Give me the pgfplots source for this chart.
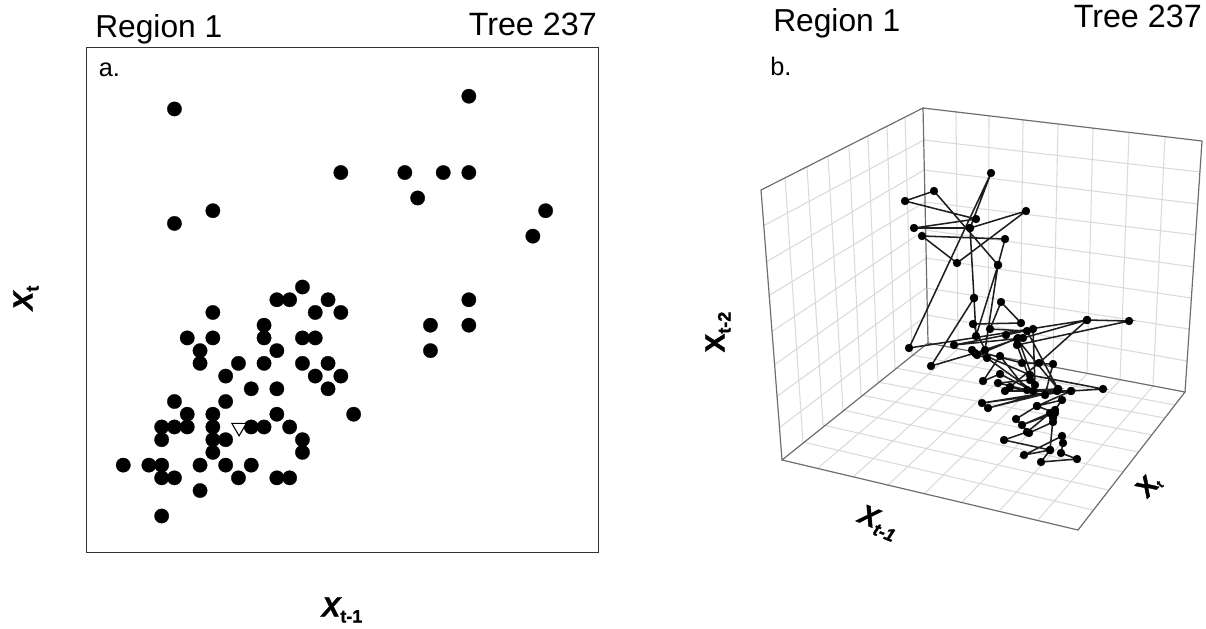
\documentclass[border=0pt]{standalone}
\usepackage{pgfplots}
\pgfplotsset{compat=1.18}
\usepackage{fontspec}
\setmainfont{Liberation Sans}
\newfontface\labb{Liberation Sans Bold}[FakeBold=1.2]
\newfontface\labi{Liberation Sans Bold Italic}[FakeBold=1.2]

\definecolor{gridgray}{HTML}{DADADA}
\definecolor{boxgray}{HTML}{6E6E6E}
\definecolor{pathgray}{HTML}{1E1E1E}
% box and grid of panel b, in picture pixels
\pgfplotsset{
  grid seg/.style={no marks, color=gridgray, line width=0.8bp},
  box seg/.style={no marks, color=boxgray, line width=0.9bp},
}
% axis letter with a bold subscript
\newcommand\sub[1]{\raisebox{-4.5bp}{\fontsize{13.5bp}{15bp}\labb #1}}

\begin{document}
\begin{tikzpicture}
\useasboundingbox (0bp,0bp) rectangle (904.5bp,-471.75bp);

% panel a
\begin{axis}[
  at={(64.5bp,-414bp)}, anchor=south west,
  scale only axis, width=384bp, height=378.75bp,
  xmin=-2.91, xmax=37.09, ymin=-2.83, ymax=36.87,
  xtick=\empty, ytick=\empty,
  axis line style={line width=0.7bp, color=black!80},
  clip=false,
]
\addplot[only marks, mark=*, mark size=5.4bp, mark options={fill=black,draw=black,line width=0.2bp}] coordinates {
  (14,18) (12,17) (13,17) (16,17) (7,16) (15,16) (17,16) (11,15)
  (5,14) (7,14) (11,14) (14,14) (15,14) (6,13) (12,13)
  (6,12) (9,12) (11,12) (14,12) (16,12) (8,11) (15,11) (17,11)
  (10,10) (12,10) (16,10) (4,9) (8,9) (5,8) (7,8) (12,8) (18,8)
  (3,7) (4,7) (5,7) (7,7) (10,7) (11,7) (13,7)
  (3,6) (7,6) (8,6) (14,6) (7,5) (14,5)
  (0,4) (2,4) (3,4) (6,4) (8,4) (10,4)
  (3,3) (4,3) (9,3) (12,3) (13,3) (6,2) (3,0)
  (27,33) (4,32) (17,27) (22,27) (25,27) (27,27) (23,25) (33,24)
  (7,24) (32,22) (4,23) (27,17) (27,15) (24,15) (24,13)
};
\addplot[only marks, mark=triangle*, mark size=6.2bp,
  mark options={rotate=180, fill=white, draw=black, line width=0.8bp}] coordinates {(9.05,6.95)};
\end{axis}

% panel b, plotted in picture pixels
\begin{axis}[
  at={(0bp,-471.75bp)}, anchor=south west,
  scale only axis, width=904.5bp, height=471.75bp,
  xmin=0, xmax=1206, ymin=0, ymax=629, y dir=reverse,
  hide axis, clip=false,
]
% left wall
\addplot[grid seg] coordinates {(785,178) (803,442)};
\addplot[grid seg] coordinates {(807,167) (823,425)};
\addplot[grid seg] coordinates {(828,157) (843,410)};
\addplot[grid seg] coordinates {(849,147) (861,395)};
\addplot[grid seg] coordinates {(868,137) (878,382)};
\addplot[grid seg] coordinates {(887,127) (895,368)};
\addplot[grid seg] coordinates {(905,118) (912,355)};
\addplot[grid seg] coordinates {(763,226) (924,140)};
\addplot[grid seg] coordinates {(766,262) (924,170)};
\addplot[grid seg] coordinates {(768,296) (925,202)};
\addplot[grid seg] coordinates {(771,332) (925,230)};
\addplot[grid seg] coordinates {(774,365) (926,258)};
\addplot[grid seg] coordinates {(776,397) (926,288)};
\addplot[grid seg] coordinates {(779,428) (927,315)};
% right wall
\addplot[grid seg] coordinates {(956,112) (958,349)};
\addplot[grid seg] coordinates {(989,116) (988,355)};
\addplot[grid seg] coordinates {(1023,120) (1020,361)};
\addplot[grid seg] coordinates {(1058,124) (1053,367)};
\addplot[grid seg] coordinates {(1093,128) (1087,374)};
\addplot[grid seg] coordinates {(1129,132) (1120,380)};
\addplot[grid seg] coordinates {(1165,137) (1153,386)};
\addplot[grid seg] coordinates {(924,140) (1200,172)};
\addplot[grid seg] coordinates {(924,170) (1198,204)};
\addplot[grid seg] coordinates {(925,202) (1196,235)};
\addplot[grid seg] coordinates {(925,230) (1194,267)};
\addplot[grid seg] coordinates {(926,258) (1191,298)};
\addplot[grid seg] coordinates {(926,288) (1189,329)};
\addplot[grid seg] coordinates {(927,315) (1187,361)};
% floor
\addplot[grid seg] coordinates {(803,442) (1093,510)};
\addplot[grid seg] coordinates {(823,425) (1108,490)};
\addplot[grid seg] coordinates {(843,410) (1123,472)};
\addplot[grid seg] coordinates {(861,395) (1138,452)};
\addplot[grid seg] coordinates {(878,382) (1152,435)};
\addplot[grid seg] coordinates {(895,368) (1165,418)};
\addplot[grid seg] coordinates {(912,355) (1175,405)};
\addplot[grid seg] coordinates {(818,468) (958,349)};
\addplot[grid seg] coordinates {(853,477) (988,355)};
\addplot[grid seg] coordinates {(888,485) (1020,361)};
\addplot[grid seg] coordinates {(925,493) (1053,367)};
\addplot[grid seg] coordinates {(962,502) (1087,374)};
\addplot[grid seg] coordinates {(1000,510) (1120,380)};
\addplot[grid seg] coordinates {(1038,520) (1153,386)};
% box edges
\addplot[box seg] coordinates {(782,460) (761,190) (923,108) (928,343) (782,460) (1078,530) (1185,392) (928,343)};
\addplot[box seg] coordinates {(923,108) (1202,141) (1185,392)};
% trajectory
\addplot[color=pathgray, line width=1.15bp, mark=*, mark size=3bp,
  mark options={fill=black, draw=black, line width=0.2bp}] coordinates {
  (1053,422) (1029,433) (1016,419) (1037,406) (1055,413) (1022,425) (1050,413) (1027,432)
  (1004,440) (1050,450) (1024,455) (1062,436) (1063,443) (1061,453) (1077,459) (1041,462)
  (1050,450) (1053,418) (1055,410) (1062,400) (1037,406) (1071,391) (982,403) (1057,391)
  (988,408) (1058,389) (1005,391) (1071,391) (1103,389) (1030,375) (972,350) (1022,363)
  (1053,364) (1045,395) (1010,387) (1039,363) (1087,320) (1129,321) (1017,345) (1030,380)
  (998,383) (1027,390) (1000,356) (983,381) (1000,374) (1033,391) (987,358) (977,355)
  (1018,338) (1035,385) (1033,329) (1006,335) (954,345) (1023,338) (1087,320) (909,348)
  (991,173) (970,228) (1026,211) (957,263) (922,236) (1005,239) (998,265) (934,191)
  (905,201) (976,219) (914,228) (970,228) (974,298) (976,336) (998,265) (985,350)
  (973,324) (1021,323) (1001,302) (990,329) (1027,331) (1058,389) (1017,339) (975,353)
  (931,366) (974,298)
};
\end{axis}

% texts, placed in picture pixels
\begin{scope}[x=0.75bp,y=-0.75bp]
\node[anchor=base west, inner sep=0pt, font=\fontsize{23.8bp}{28bp}\selectfont] at (95,37) {Region 1};
\node[anchor=base east, inner sep=0pt, font=\fontsize{24.2bp}{28bp}\selectfont] at (597,35.5) {Tree 237};
\node[anchor=base west, inner sep=0pt, font=\fontsize{19bp}{22bp}\selectfont] at (98.5,76) {a.};
\node[anchor=base west, inner sep=0pt, font=\fontsize{23.8bp}{28bp}\selectfont] at (773,31) {Region 1};
\node[anchor=base east, inner sep=0pt, font=\fontsize{24.2bp}{28bp}\selectfont] at (1202,27) {Tree 237};
\node[anchor=base west, inner sep=0pt, font=\fontsize{19bp}{22bp}\selectfont] at (770,75) {b.};
\node[rotate=90, font=\fontsize{21bp}{24bp}\labi] at (26,298) {X\sub{t}};
\node[font=\fontsize{21bp}{24bp}\labi] at (342,610) {X\sub{t-1}};
\node[rotate=90, font=\fontsize{21bp}{24bp}\labb] at (718,332) {X\sub{t-2}};
\node[rotate=-22, font=\fontsize{21bp}{24bp}\labi] at (878,523) {X\raisebox{-4.5bp}{\fontsize{13.5bp}{15bp}\labi t-1}};
\node[rotate=45, font=\fontsize{20bp}{24bp}\labb] at (1149,486) {X\raisebox{-2bp}{\fontsize{9bp}{10bp}\labb t}};
\end{scope}
\end{tikzpicture}
\end{document}
